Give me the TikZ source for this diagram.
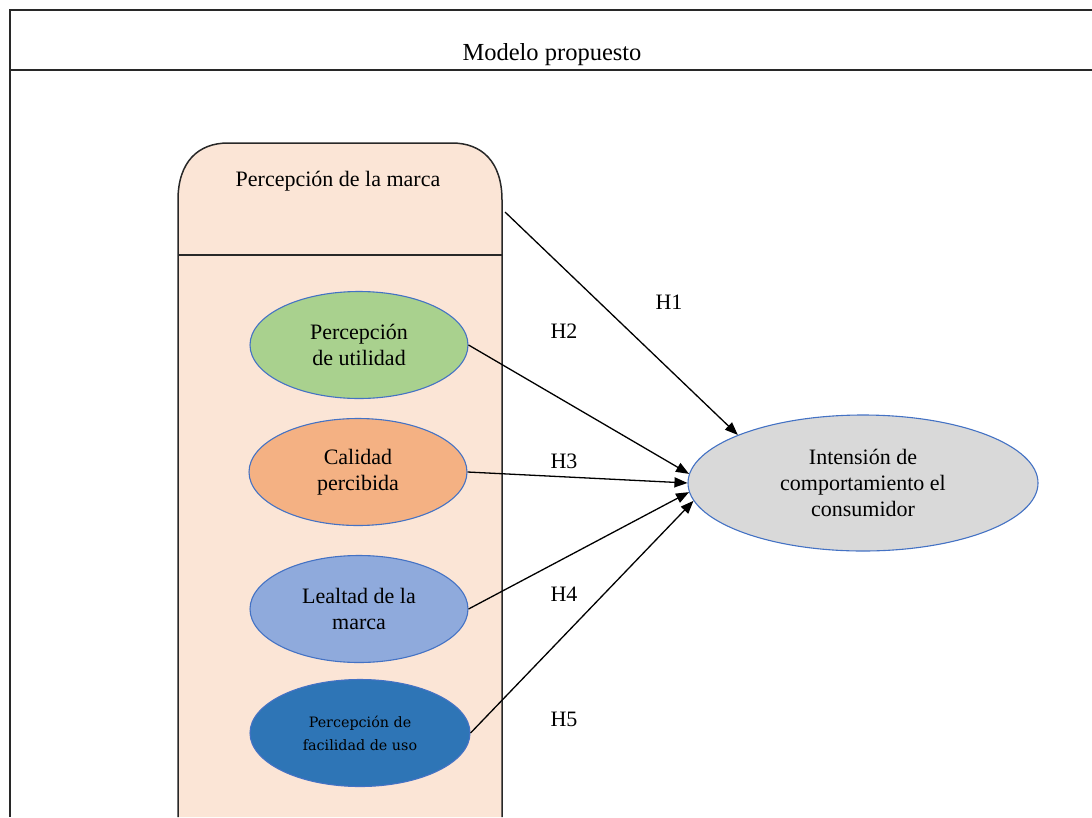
\documentclass[tikz,border=0pt]{standalone}
\usepackage{fontspec}
\setmainfont{Liberation Serif}
\newfontfamily\slabfont{DejaVu Serif}
\usetikzlibrary{shapes.geometric,arrows.meta,calc}
\definecolor{framegray}{RGB}{40,40,40}
\definecolor{boxfill}{RGB}{251,229,214}
\definecolor{ellborder}{RGB}{68,114,196}
\definecolor{greenfill}{RGB}{169,209,142}
\definecolor{orangefill}{RGB}{244,177,131}
\definecolor{lbluefill}{RGB}{143,170,220}
\definecolor{dbluefill}{RGB}{46,117,182}
\definecolor{grayfill}{RGB}{217,217,217}
\tikzset{
  txt/.style={font=\fontsize{22}{26}\selectfont, align=center, inner sep=0pt},
  ell/.style={ellipse, draw=ellborder, line width=1.1pt, minimum width=218pt, minimum height=107pt, inner sep=0pt, txt},
  conn/.style={draw=black, line width=1.3pt, -{Triangle[length=13pt,width=10pt]}},
  hlabel/.style={font=\fontsize{22}{24}\selectfont, inner sep=0pt}
}
\begin{document}
\begin{tikzpicture}[x=1pt,y=-1pt]
\useasboundingbox (0,0) rectangle (1092,817);
% outer frame
\draw[framegray, line width=1.5pt] (1092,10) -- (10,10) -- (10,817);
\draw[framegray, line width=1.5pt] (10,70) -- (1092,70);
\node[txt, font=\fontsize{24.5}{28}\selectfont] (title) at (552,55) {Modelo propuesto};
% container
\filldraw[fill=boxfill, draw=framegray, line width=1.5pt]
  (178,817) -- (178,200) .. controls (178,162) and (198,143) .. (228,143)
  -- (452,143) .. controls (482,143) and (502,162) .. (502,200) -- (502,817);
\draw[framegray, line width=1.5pt] (178,255) -- (502,255);
\node[txt] (ctitle) at (338,181) {Percepción de la marca};
% ellipses
\node[ell, fill=greenfill] (e1) at (359,345) {Percepción\\de utilidad};
\node[ell, fill=orangefill] (e2) at (358,472) {Calidad\\percibida};
\node[ell, fill=lbluefill] (e3) at (359,609) {Lealtad de la\\marca};
\node[ell, fill=dbluefill, minimum width=220pt, font=\slabfont\fontsize{14.3}{23}\selectfont] (e4) at (360,733) {Percepción de\\facilidad de uso};
\node[ell, fill=grayfill, minimum width=350pt, minimum height=136pt] (t) at (863,483) {Intensión de\\comportamiento el\\consumidor};
% connectors
\coordinate (h1s) at (505,212);
\draw[conn] (h1s) -- (t.159);
\draw[conn] (e1.east) -- (t.177);
\draw[conn] (e2.east) -- (t.180);
\draw[conn] (e3.east) -- (t.183);
\draw[conn] (e4.east) -- (t.186);
% labels
\node[hlabel] (l1) at (669,302) {H1};
\node[hlabel] (l2) at (564,331) {H2};
\node[hlabel] (l3) at (564,461) {H3};
\node[hlabel] (l4) at (564,594) {H4};
\node[hlabel] (l5) at (564,719) {H5};
\end{tikzpicture}
\end{document}
